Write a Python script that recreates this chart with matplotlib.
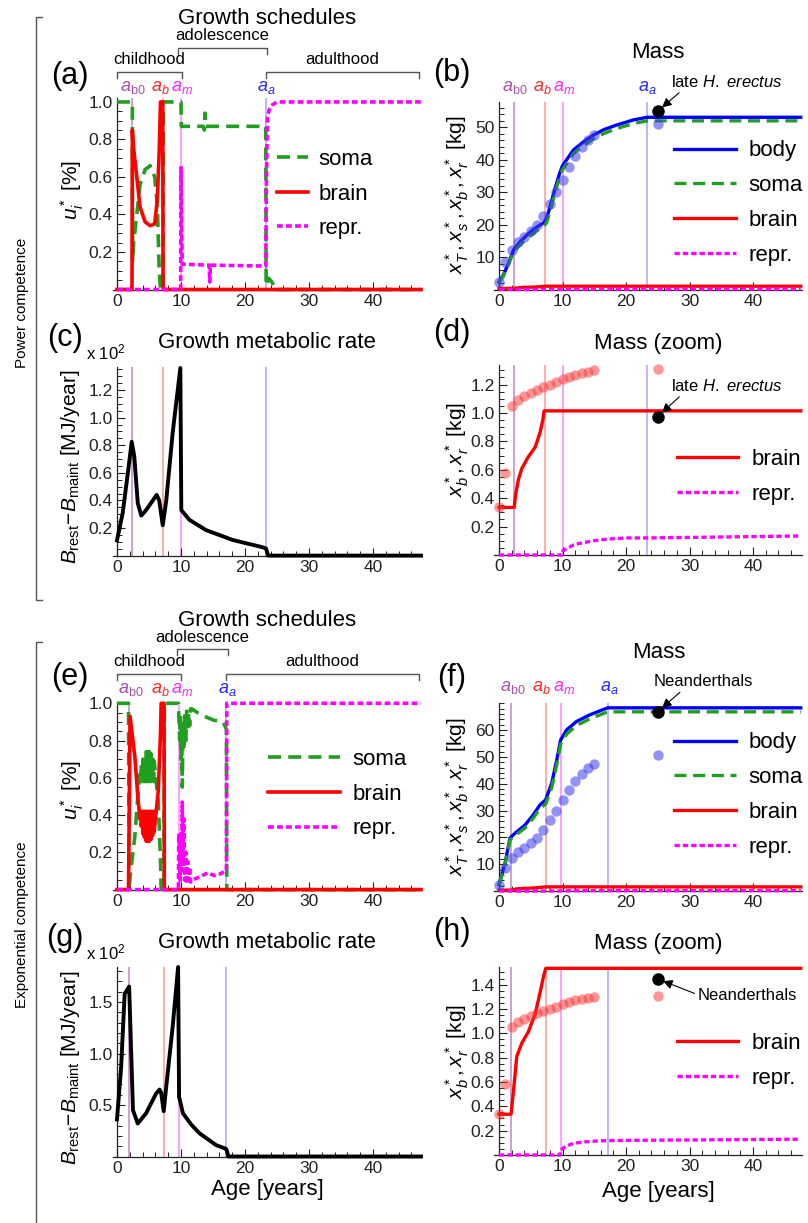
import matplotlib
matplotlib.use("Agg")
import matplotlib.pyplot as plt
import matplotlib.transforms as mtransforms
from matplotlib.lines import Line2D
from matplotlib.ticker import MultipleLocator

plt.rcParams['font.family'] = ['Liberation Sans', 'DejaVu Sans']
plt.rcParams['mathtext.fontset'] = 'custom'
plt.rcParams['mathtext.rm'] = 'Liberation Sans'
plt.rcParams['mathtext.it'] = 'Liberation Sans:italic'
plt.rcParams['mathtext.bf'] = 'Liberation Sans:bold'

W, H = 808, 1223

# ---- phase transition ages (a_b0, a_b, a_m, a_a) ----
power_ages = [2.4, 7.2, 10.0, 23.3]
expo_ages = [1.9, 7.4, 9.7, 17.1]

# ---- observed data (modern humans) ----
obs_age = [0, 1, 2, 3, 4, 5, 6, 7, 8, 9, 10, 11, 12, 13, 14, 15]
body_obs = [2.4, 8.4, 12.2, 14.5, 16.2, 17.9, 19.9, 22.7, 26.3, 30.0, 33.8, 37.6, 41.1, 43.8, 46.0, 47.4]
brain_obs = [0.335, 0.58, 1.05, 1.09, 1.12, 1.14, 1.165, 1.185, 1.20, 1.22, 1.24, 1.255, 1.27, 1.28, 1.29, 1.30]
adult_age = 25
adult_body = 50.8
adult_brain = 1.31
# fossil estimates
erectus_body, erectus_brain = 54.9, 0.975
neander_body, neander_brain = 66.9, 1.446

# ---- power competence: growth schedules (a) ----
pa_t_soma = [0, 2.4, 2.45, 2.6, 3.1, 3.6, 4.4, 5.2, 5.9, 6.3, 6.6, 6.8, 7.2, 7.25, 10.0, 10.05, 13.5, 13.65, 13.75,
             13.85, 23.25, 23.3, 23.7, 24.2, 24.8, 47.5]
pa_soma = [1, 1, 0.15, 0.25, 0.40, 0.56, 0.64, 0.66, 0.60, 0.45, 0.10, 0, 0, 1, 1, 0.87, 0.87, 0.85, 0.94,
           0.87, 0.87, 0.02, 0.06, 0.04, 0, 0]
pa_t_brain = [0, 2.35, 2.4, 2.6, 3.1, 3.6, 4.4, 5.2, 5.9, 6.3, 6.6, 6.8, 7.15, 7.2, 47.5]
pa_brain = [0, 0, 0.85, 0.75, 0.60, 0.44, 0.36, 0.34, 0.35, 0.48, 0.74, 1.0, 1.0, 0, 0]
pa_t_repr = [0, 9.95, 10.0, 10.1, 10.2, 14.4, 14.5, 14.6, 23.25, 23.35, 23.5, 23.8, 24.3, 25.0, 47.5]
pa_repr = [0, 0, 0.65, 0.35, 0.135, 0.13, 0.04, 0.13, 0.125, 0.6, 0.92, 0.96, 0.985, 1.0, 1.0]

# ---- power competence: masses (b, d) ----
pm_t = [0, 0.7, 1.5, 2.3, 3.3, 4.4, 5.5, 6.5, 7.0, 7.5, 8.0, 8.5, 9.0, 9.5, 10.0, 10.6, 11.7, 13.0, 14.85,
        16.5, 18.5, 21.2, 23.35, 47.5]
pm_body = [2.4, 4.5, 8.1, 12.2, 14.6, 16.8, 18.6, 19.9, 20.4, 22.0, 25.2, 28.8, 32.2, 35.5, 38.1, 39.8, 42.9,
           45.0, 47.5, 49.2, 50.6, 52.2, 53.0, 53.0]
pm_soma = [2.1, 4.2, 7.8, 11.5, 13.7, 15.7, 17.4, 18.8, 19.3, 20.6, 23.8, 27.5, 31.0, 34.3, 36.9, 38.6, 41.8,
           43.9, 46.4, 48.0, 49.5, 51.1, 51.9, 51.9]
pb_t = [0, 2.4, 2.6, 3.05, 3.6, 4.6, 5.7, 6.45, 6.9, 7.1, 47.5]
pb_brain = [0.335, 0.335, 0.42, 0.53, 0.61, 0.69, 0.76, 0.86, 0.95, 1.015, 1.015]
pr_t = [0, 10.0, 10.05, 11.7, 12.5, 14.85, 17.0, 20.1, 23.4, 47.5]
pr_repr = [0, 0, 0.03, 0.07, 0.08, 0.10, 0.112, 0.12, 0.12, 0.134]

# ---- power competence: growth metabolic rate (c), x 10^2 MJ/year ----
pg_t = [0, 0.9, 1.7, 2.3, 2.7, 3.25, 3.8, 4.55, 5.6, 6.2, 6.6, 7.15, 7.7, 8.7, 9.9, 10.05, 11.3, 13.9, 18.1,
        22.8, 23.3, 23.6, 47.5]
pg_rate = [0.11, 0.31, 0.60, 0.825, 0.72, 0.38, 0.29, 0.33, 0.40, 0.44, 0.40, 0.22, 0.40, 0.89, 1.36, 0.33,
           0.26, 0.185, 0.113, 0.06, 0.05, 0.0, 0.0]

# ---- exponential competence: growth schedules (e) ----
ea_t_soma = [0, 1.8, 1.9, 2.05, 2.8, 3.3, 3.6, 3.75, 3.8, 4.0, 4.05, 4.25, 4.3, 4.5, 4.55, 4.75, 4.8, 5.0, 5.05,
             5.25, 5.3, 5.5, 5.55, 5.75, 5.8, 5.95, 6.45, 6.8, 6.9, 7.35, 7.4, 9.6, 9.8, 9.9, 10.0, 10.1, 10.2,
             10.3, 10.45, 10.6, 10.75, 10.9, 11.05, 11.2, 11.35, 11.5, 11.7, 13.0, 15.05, 16.6, 17.1, 17.15, 47.5]
ea_soma = [1, 1, 0, 0.07, 0.29, 0.52, 0.62, 0.58, 0.66, 0.58, 0.70, 0.58, 0.72, 0.58, 0.74, 0.58, 0.74, 0.58,
           0.74, 0.58, 0.73, 0.58, 0.71, 0.58, 0.69, 0.64, 0.47, 0.16, 0, 0, 1, 1, 0.8, 0.95, 0.7, 0.9, 0.55,
           0.85, 0.75, 0.95, 0.8, 0.97, 0.85, 0.95, 0.88, 0.97, 0.97, 0.94, 0.91, 0.90, 0.86, 0, 0]
ea_t_brain = [0, 1.8, 2.05, 2.8, 3.3, 3.6, 3.75, 3.8, 4.0, 4.05, 4.25, 4.3, 4.5, 4.55, 4.75, 4.8, 5.0, 5.05,
              5.25, 5.3, 5.5, 5.55, 5.75, 5.8, 5.95, 6.45, 6.8, 6.9, 7.35, 7.4, 47.5]
ea_brain = [0, 0, 0.93, 0.71, 0.48, 0.38, 0.42, 0.34, 0.42, 0.30, 0.42, 0.28, 0.42, 0.26, 0.42, 0.26, 0.42,
            0.26, 0.42, 0.27, 0.42, 0.29, 0.42, 0.31, 0.36, 0.53, 0.84, 1.0, 1.0, 0, 0]
ea_t_repr = [0, 9.6, 9.65, 9.8, 9.9, 10.0, 10.1, 10.2, 10.3, 10.45, 10.6, 10.75, 10.9, 11.05, 11.2, 11.35,
             11.5, 11.7, 13.0, 14.2, 15.2, 16.2, 16.9, 17.1, 17.15, 47.5]
ea_repr = [0, 0, 0.3, 0.2, 0.05, 0.3, 0.1, 0.47, 0.15, 0.38, 0.05, 0.2, 0.03, 0.15, 0.05, 0.12, 0.04, 0.05,
           0.07, 0.09, 0.075, 0.085, 0.1, 0.1, 1.0, 1.0]

# ---- exponential competence: masses (f, h) ----
em_t = [0, 0.95, 1.73, 2.5, 4.1, 5.4, 6.45, 7.35, 8.3, 9.1, 9.7, 10.65, 12.2, 14.3, 17.1, 47.5]
em_body = [2.5, 10.3, 19.7, 21.5, 24.6, 28.4, 32.1, 34.0, 40.2, 48.9, 56.3, 60.1, 63.2, 65.7, 68.3, 68.3]
em_soma = [2.2, 9.9, 19.0, 20.6, 23.5, 27.2, 30.8, 32.4, 38.5, 47.2, 54.7, 58.5, 61.7, 64.2, 66.8, 66.8]
eb_t = [0, 1.9, 2.25, 2.8, 3.6, 4.6, 5.7, 6.45, 7.0, 7.35, 47.5]
eb_brain = [0.335, 0.335, 0.51, 0.81, 0.92, 1.01, 1.16, 1.33, 1.465, 1.534, 1.534]
er_t = [0, 9.6, 9.65, 10.5, 11.7, 13.5, 15.9, 19.8, 47.5]
er_repr = [0, 0, 0.04, 0.07, 0.096, 0.108, 0.117, 0.12, 0.13]

# ---- exponential competence: growth metabolic rate (g) ----
eg_t = [0, 0.65, 1.2, 1.7, 1.9, 2.5, 3.25, 4.55, 6.1, 6.65, 6.9, 7.3, 7.7, 8.7, 9.55, 9.7, 10.3, 11.6, 12.9,
        15.5, 16.8, 17.1, 17.4, 47.5]
eg_rate = [0.36, 0.87, 1.58, 1.63, 1.65, 0.45, 0.32, 0.42, 0.61, 0.65, 0.62, 0.44, 0.68, 1.26, 1.84, 0.58,
           0.42, 0.31, 0.225, 0.11, 0.08, 0.07, 0.0, 0.0]

C_SOMA, C_BRAIN, C_REPR, C_BODY = '#1f9e1f', '#ff0000', '#ff00ff', '#0000ff'
AGE_COLORS = ['#993399', '#ff0000', '#ff00ff', '#0000ff']
AGE_ALPHA = [0.5, 0.35, 0.4, 0.3]
AGE_LABELS = [r'$a_{\mathrm{b0}}$', r'$a_b$', r'$a_m$', r'$a_a$']
POWER_OFFS = [0.1, -0.35, 0.2, 0.1]
EXPO_OFFS = [0.2, -0.7, 0.5, 0.2]

fig = plt.figure(figsize=(W / 100, H / 100), dpi=100)


def px_axes(left, right, top, bottom):
    return fig.add_axes([left / W, 1 - bottom / H, (right - left) / W, (bottom - top) / H])


def ftext(x, y, s, **kw):
    kw.setdefault('ha', 'center')
    kw.setdefault('va', 'center')
    return fig.text(x / W, 1 - y / H, s, **kw)


def fline(xs, ys, **kw):
    fig.add_artist(Line2D([x / W for x in xs], [1 - y / H for y in ys],
                          transform=fig.transFigure, color='#555555', lw=1, **kw))


def style_axes(ax, xlim, ytop, yticks, yminor, fmt):
    ax.set_xlim(*xlim)
    ax.set_ylim(0, ytop)
    for s in ['top', 'right']:
        ax.spines[s].set_visible(False)
    ax.spines['left'].set_position(('data', 0))
    ax.spines['bottom'].set_position(('data', 0))
    for s in ['left', 'bottom']:
        ax.spines[s].set_color('#222222')
        ax.spines[s].set_linewidth(0.9)
    ax.set_xticks([0, 10, 20, 30, 40])
    ax.xaxis.set_minor_locator(MultipleLocator(2))
    ax.set_yticks(yticks)
    ax.set_yticklabels([fmt % v for v in yticks])
    ax.yaxis.set_minor_locator(MultipleLocator(yminor))
    ax.tick_params(direction='in', length=6, width=0.8, labelsize=12.5, pad=3, colors='#222222')
    ax.tick_params(which='minor', direction='in', length=3.5, width=0.6)
    ax.patch.set_alpha(0)


def age_lines(ax, ages, label_y=None, offs=None):
    for i, (a, c, al, lab) in enumerate(zip(ages, AGE_COLORS, AGE_ALPHA, AGE_LABELS)):
        ax.axvline(a, color=c, alpha=al, lw=1.3, zorder=1)
        if label_y is not None:
            tr = mtransforms.blended_transform_factory(ax.transData, fig.transFigure)
            ax.text(a + offs[i], 1 - label_y / H, lab, color=c, fontsize=13, ha='center', va='center',
                    transform=tr, alpha=0.85)


def add_legend(ax, handles, labels, x, y, hl, pad):
    ax.legend(handles, labels, loc='center left', bbox_to_anchor=(x / W, 1 - y / H),
              bbox_transform=fig.transFigure, frameon=False, fontsize=16, handlelength=hl,
              handletextpad=pad, labelspacing=0.62, borderpad=0, borderaxespad=0)


def phase_brackets(ax, spans, y_low, y_high, text_low, text_high):
    tr = mtransforms.blended_transform_factory(ax.transData, fig.transFigure)
    names = ['childhood', 'adolescence', 'adulthood']
    levels = [(y_low, text_low), (y_high, text_high), (y_low, text_low)]
    for (x0, x1), name, (yb, yt) in zip(spans, names, levels):
        ax.plot([x0, x0, x1, x1], [1 - (yb + 6) / H, 1 - yb / H, 1 - yb / H, 1 - (yb + 6) / H],
                color='#555555', lw=1, transform=tr, clip_on=False)
        ax.text((x0 + x1) / 2, 1 - yt / H, name, fontsize=12, ha='center', va='center', transform=tr)


def schedule_panel(ax, t_soma, soma, t_brain, brain, t_repr, repr_):
    hs, = ax.plot(t_soma, soma, color=C_SOMA, lw=2.6, dashes=(3.6, 2.0), clip_on=False, zorder=3)
    hb, = ax.plot(t_brain, brain, color=C_BRAIN, lw=2.6, clip_on=False, zorder=4)
    hr, = ax.plot(t_repr, repr_, color=C_REPR, lw=2.6, dashes=(1.6, 0.9), clip_on=False, zorder=5)
    return hs, hb, hr


LX = (-0.7, 47.5)
RX = (-0.8, 47.7)
LL, LR = 112.5, 421
RL, RR = 493.9, 802

# =============== Power competence ===============
# (a)
ax = px_axes(LL, LR, 98, 289.5)
style_axes(ax, LX, 1.021, [0.2, 0.4, 0.6, 0.8, 1.0], 0.05, '%.1f')
age_lines(ax, power_ages, 88, POWER_OFFS)
hs, hb, hr = schedule_panel(ax, pa_t_soma, pa_soma, pa_t_brain, pa_brain, pa_t_repr, pa_repr)
add_legend(ax, [hs, hb, hr], ['soma', 'brain', 'repr.'], 277, 194, 1.4, 0.45)
am, aa = power_ages[2], power_ages[3]
phase_brackets(ax, [(0, am + 0.1), (am - 0.4, aa + 0.1), (aa, 47.2)], 72, 48, 60, 35)
ftext(267, 18, 'Growth schedules', fontsize=16)
ftext(70, 76, '(a)', fontsize=22)
ftext(72, 190, r'$u_i^*$ [%]', fontsize=15, rotation=90)

# (b)
ax = px_axes(RL, RR, 102, 289.5)
style_axes(ax, RX, 57.7, [10, 20, 30, 40, 50], 2, '%d')
age_lines(ax, power_ages, 88, POWER_OFFS)
h1, = ax.plot(pm_t, pm_body, color=C_BODY, lw=2.4, clip_on=False, zorder=3)
h2, = ax.plot(pm_t, pm_soma, color=C_SOMA, lw=2.4, dashes=(3.6, 2.0), clip_on=False, zorder=3)
h3, = ax.plot(pb_t, pb_brain, color=C_BRAIN, lw=2.4, clip_on=False, zorder=3)
h4, = ax.plot(pr_t, pr_repr, color=C_REPR, lw=2.4, dashes=(1.6, 0.9), clip_on=False, zorder=3)
ax.plot(obs_age + [adult_age], body_obs + [adult_body], 'o', color='#3a3aee', alpha=0.55, ms=7.5,
        mec='none', zorder=4, clip_on=False)
ax.plot([adult_age], [erectus_body], 'o', color='k', ms=8, zorder=6, clip_on=False)
ax.annotate(r'late $H.\ erectus$', xy=(adult_age, erectus_body), xytext=(727 / W, 1 - 82 / H),
            textcoords='figure fraction', ha='center', va='center', fontsize=12,
            arrowprops=dict(arrowstyle='-|>', color='k', lw=0.8, mutation_scale=14,
                            shrinkA=0, shrinkB=4, relpos=(0.1, 0.0)))
add_legend(ax, [h1, h2, h3, h4], ['body', 'soma', 'brain', 'repr.'], 674, 203, 2.8, 0.55)
ftext(658, 52, 'Mass', fontsize=16)
ftext(452, 73, '(b)', fontsize=22)
ftext(457, 195, r'$x_T^*,x_s^*,x_b^*,x_r^*$ [kg]', fontsize=15, rotation=90)

# (c)
ax = px_axes(LL, LR, 367, 555.6)
style_axes(ax, LX, 1.367, [0.2, 0.4, 0.6, 0.8, 1.0, 1.2], 0.05, '%.1f')
age_lines(ax, power_ages)
ax.plot(pg_t, pg_rate, color='k', lw=2.8, clip_on=False, zorder=3)
ftext(267, 343, 'Growth metabolic rate', fontsize=16)
ftext(65, 338, '(c)', fontsize=22)
ftext(106, 352, r'x 10$^2$', fontsize=12)
ftext(70, 467, r'$B_{\mathrm{rest}}\!-\!B_{\mathrm{maint}}$ [MJ/year]', fontsize=15, rotation=90)

# (d)
ax = px_axes(RL, RR, 365, 555)
style_axes(ax, RX, 1.338, [0.2, 0.4, 0.6, 0.8, 1.0, 1.2], 0.05, '%.1f')
age_lines(ax, power_ages)
h3, = ax.plot(pb_t, pb_brain, color=C_BRAIN, lw=2.4, clip_on=False, zorder=3)
h4, = ax.plot(pr_t, pr_repr, color=C_REPR, lw=2.4, dashes=(1.6, 0.9), clip_on=False, zorder=3)
ax.plot(obs_age + [adult_age], brain_obs + [adult_brain], 'o', color='#ff3030', alpha=0.5, ms=7.5,
        mec='none', zorder=4, clip_on=False)
ax.plot([adult_age], [erectus_brain], 'o', color='k', ms=8, zorder=6)
ax.annotate(r'late $H.\ erectus$', xy=(adult_age, erectus_brain), xytext=(727 / W, 1 - 386 / H),
            textcoords='figure fraction', ha='center', va='center', fontsize=12,
            arrowprops=dict(arrowstyle='-|>', color='k', lw=0.8, mutation_scale=14,
                            shrinkA=0, shrinkB=4, relpos=(0.1, 0.0)))
add_legend(ax, [h3, h4], ['brain', 'repr.'], 677, 477, 2.75, 0.6)
ftext(658, 343, 'Mass (zoom)', fontsize=16)
ftext(452, 333, '(d)', fontsize=22)
ftext(457, 450, r'$x_b^*,x_r^*$ [kg]', fontsize=15, rotation=90)

# =============== Exponential competence ===============
# (e)
ax = px_axes(LL, LR, 702, 889.6)
style_axes(ax, LX, 1.007, [0.2, 0.4, 0.6, 0.8, 1.0], 0.05, '%.1f')
age_lines(ax, expo_ages, 690, EXPO_OFFS)
hs, hb, hr = schedule_panel(ax, ea_t_soma, ea_soma, ea_t_brain, ea_brain, ea_t_repr, ea_repr)
add_legend(ax, [hs, hb, hr], ['soma', 'brain', 'repr.'], 268, 794, 3.25, 0.55)
am, aa = expo_ages[2], expo_ages[3]
phase_brackets(ax, [(0, am + 0.3), (am - 0.3, aa + 0.2), (aa - 0.1, 47.2)], 674, 649, 662, 638)
ftext(267, 620, 'Growth schedules', fontsize=16)
ftext(70, 677, '(e)', fontsize=22)
ftext(72, 790, r'$u_i^*$ [%]', fontsize=15, rotation=90)

# (f)
ax = px_axes(RL, RR, 703, 891)
style_axes(ax, RX, 70.1, [10, 20, 30, 40, 50, 60], 2, '%d')
age_lines(ax, expo_ages, 688, EXPO_OFFS)
h1, = ax.plot(em_t, em_body, color=C_BODY, lw=2.4, clip_on=False, zorder=3)
h2, = ax.plot(em_t, em_soma, color=C_SOMA, lw=2.4, dashes=(3.6, 2.0), clip_on=False, zorder=3)
h3, = ax.plot(eb_t, eb_brain, color=C_BRAIN, lw=2.4, clip_on=False, zorder=3)
h4, = ax.plot(er_t, er_repr, color=C_REPR, lw=2.4, dashes=(1.6, 0.9), clip_on=False, zorder=3)
ax.plot(obs_age + [adult_age], body_obs + [adult_body], 'o', color='#3a3aee', alpha=0.55, ms=7.5,
        mec='none', zorder=4, clip_on=False)
ax.plot([adult_age], [neander_body], 'o', color='k', ms=8, zorder=6)
ax.annotate('Neanderthals', xy=(adult_age, neander_body), xytext=(703 / W, 1 - 682 / H),
            textcoords='figure fraction', ha='center', va='center', fontsize=12,
            arrowprops=dict(arrowstyle='-|>', color='k', lw=0.8, mutation_scale=14,
                            shrinkA=0, shrinkB=4, relpos=(0.3, 0.0)))
add_legend(ax, [h1, h2, h3, h4], ['body', 'soma', 'brain', 'repr.'], 674, 795, 2.8, 0.55)
ftext(659, 652, 'Mass', fontsize=16)
ftext(452, 678, '(f)', fontsize=22)
ftext(457, 797, r'$x_T^*,x_s^*,x_b^*,x_r^*$ [kg]', fontsize=15, rotation=90)

# (g)
ax = px_axes(LL, LR, 967, 1156.5)
style_axes(ax, LX, 1.84, [0.5, 1.0, 1.5], 0.1, '%.1f')
age_lines(ax, expo_ages)
ax.plot(eg_t, eg_rate, color='k', lw=2.8, clip_on=False, zorder=3)
ftext(267, 943, 'Growth metabolic rate', fontsize=16)
ftext(65, 938, '(g)', fontsize=22)
ftext(106, 952, r'x 10$^2$', fontsize=12)
ftext(70, 1068, r'$B_{\mathrm{rest}}\!-\!B_{\mathrm{maint}}$ [MJ/year]', fontsize=15, rotation=90)
ftext(267, 1190, 'Age [years]', fontsize=16)

# (h)
ax = px_axes(RL, RR, 967, 1155)
style_axes(ax, RX, 1.545, [0.2, 0.4, 0.6, 0.8, 1.0, 1.2, 1.4], 0.05, '%.1f')
age_lines(ax, expo_ages)
h3, = ax.plot(eb_t, eb_brain, color=C_BRAIN, lw=2.4, clip_on=False, zorder=3)
h4, = ax.plot(er_t, er_repr, color=C_REPR, lw=2.4, dashes=(1.6, 0.9), clip_on=False, zorder=3)
ax.plot(obs_age + [adult_age], brain_obs + [adult_brain], 'o', color='#ff3030', alpha=0.5, ms=7.5,
        mec='none', zorder=4, clip_on=False)
ax.plot([adult_age], [neander_brain], 'o', color='k', ms=8, zorder=6)
ax.annotate('Neanderthals', xy=(adult_age, neander_brain), xytext=(747 / W, 1 - 996 / H),
            textcoords='figure fraction', ha='center', va='center', fontsize=12,
            arrowprops=dict(arrowstyle='-|>', color='k', lw=0.8, mutation_scale=14,
                            shrinkA=0, shrinkB=4, relpos=(0.0, 0.6)))
add_legend(ax, [h3, h4], ['brain', 'repr.'], 677, 1061, 2.75, 0.6)
ftext(658, 943, 'Mass (zoom)', fontsize=16)
ftext(452, 932, '(h)', fontsize=22)
ftext(457, 1052, r'$x_b^*,x_r^*$ [kg]', fontsize=15, rotation=90)
ftext(658, 1192, 'Age [years]', fontsize=16)

# side brackets
fline([42, 36, 36, 42], [17, 17, 600, 600])
fline([42, 36, 36], [642, 642, 1223])
ftext(22, 303, 'Power competence', fontsize=11, rotation=90)
ftext(22, 925, 'Exponential competence', fontsize=11, rotation=90)

fig.savefig('out.png', dpi=100)
